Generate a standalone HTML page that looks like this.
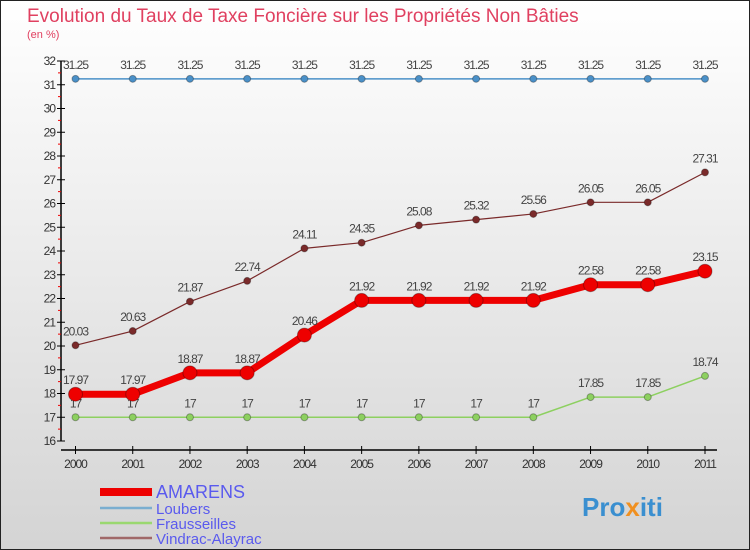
<!DOCTYPE html>
<html><head><meta charset="utf-8"><style>
body{margin:0;width:750px;height:550px;overflow:hidden;font-family:"Liberation Sans",sans-serif}
#wrap{position:absolute;left:0;top:0;width:748px;height:548px;border:1px solid #222;background:linear-gradient(#ffffff,#d4d4d4)}
</style></head><body>
<div id="wrap">
<svg id="chart" width="750" height="550" style="position:absolute;left:-1px;top:-1px">
<text x="27" y="22" font-size="19" font-weight="normal" fill="#e04060">Evolution du Taux de Taxe Foncière sur les Propriétés Non Bâties</text>
<text x="27" y="38" font-size="11" fill="#e04060">(en %)</text>
<g id="axes"></g><g id="series"></g><g id="legend"></g>
<text x="582" y="516" font-size="26" font-weight="bold" fill="#3a8fd0">Pro<tspan fill="#f09020">x</tspan>iti</text>
</svg>
</div>
<script>
const years=["2000","2001","2002","2003","2004","2005","2006","2007","2008","2009","2010","2011"];
const yTicks=[16,17,18,19,20,21,22,23,24,25,26,27,28,29,30,31,32];
const amarens=[17.97,17.97,18.87,18.87,20.46,21.92,21.92,21.92,21.92,22.58,22.58,23.15];
const loubers=[31.25,31.25,31.25,31.25,31.25,31.25,31.25,31.25,31.25,31.25,31.25,31.25];
const frausseilles=[17,17,17,17,17,17,17,17,17,17.85,17.85,18.74];
const vindrac=[20.03,20.63,21.87,22.74,24.11,24.35,25.08,25.32,25.56,26.05,26.05,27.31];
const names=["AMARENS","Loubers","Frausseilles","Vindrac-Alayrac"];
const NS="http://www.w3.org/2000/svg";
const xs=i=>75.5+i*(705-75.5)/11;
const ys=v=>441-(v-16)*(380/16);
function mk(tag,attrs,parent){const e=document.createElementNS(NS,tag);for(const k in attrs)e.setAttribute(k,attrs[k]);parent.appendChild(e);return e;}
const ax=document.getElementById('axes');
let yl=mk('line',{x1:61,y1:ys(32),x2:61,y2:ys(16),stroke:'#000','stroke-width':1.5},ax);


yTicks.forEach(v=>{
 mk('line',{x1:57,y1:ys(v),x2:65,y2:ys(v),stroke:'#000'},ax);
 if(v<32)mk('line',{x1:58,y1:ys(v+0.5),x2:61,y2:ys(v+0.5),stroke:'#e00'},ax);
 const t=mk('text',{x:55,y:ys(v)+4,'font-size':12,'text-anchor':'end',fill:'#333','letter-spacing':'-1'},ax);t.textContent=v;
 
 
});
let xl=mk('line',{x1:61,y1:450,x2:717,y2:450,stroke:'#000','stroke-width':1.5},ax);


years.forEach((y,i)=>{
 mk('line',{x1:xs(i),y1:446,x2:xs(i),y2:454,stroke:'#000'},ax);
 const t=mk('text',{x:xs(i),y:468,'font-size':12,'text-anchor':'middle',fill:'#333','letter-spacing':'-1'},ax);t.textContent=y;
 
 
});
const sg=document.getElementById('series');
function series(data,color,w,r,name,fmt){
 const g=mk('g',{},sg);
 
 
 mk('polyline',{points:data.map((v,i)=>xs(i)+','+ys(v)).join(' '),fill:'none',stroke:color,'stroke-width':w,'stroke-linejoin':'round'},g);
 data.forEach((v,i)=>{
  const c=mk('circle',{cx:xs(i),cy:ys(v),r:r,fill:color,stroke:'rgba(0,0,0,0.3)','stroke-width':1},g);
  
  
  const t=mk('text',{x:xs(i),y:ys(v)-10,'font-size':12,'text-anchor':'middle',fill:'#444','letter-spacing':'-1'},g);
  t.textContent=fmt(v);
  
  
 });
}
const f2=v=>String(v);
series(loubers,'#4a90c8',1.5,3.5,'series-loubers',v=>v.toFixed(2));
series(frausseilles,'#8dd060',1.5,3.5,'series-frausseilles',f2);
series(vindrac,'#7a2a2a',1.2,3.5,'series-vindrac-alayrac',f2);
series(amarens,'#ee0000',7,7,'series-amarens',f2);
const lg=document.getElementById('legend');
const lc=['#ee0000','#7aaed0','#9ad870','#a06868'],lw=[8,2.5,2.5,2.5],lf=[18,15,15,15],ly=[492,508,523,538];
names.forEach((n,i)=>{
 const g=mk('g',{},lg);
 
 
 mk('line',{x1:100,y1:ly[i],x2:152,y2:ly[i],stroke:lc[i],'stroke-width':lw[i]},g);
 const t=mk('text',{x:156,y:ly[i]+6,'font-size':lf[i],fill:'#5a5aee'},g);t.textContent=n;
});
</script>
</body></html>
